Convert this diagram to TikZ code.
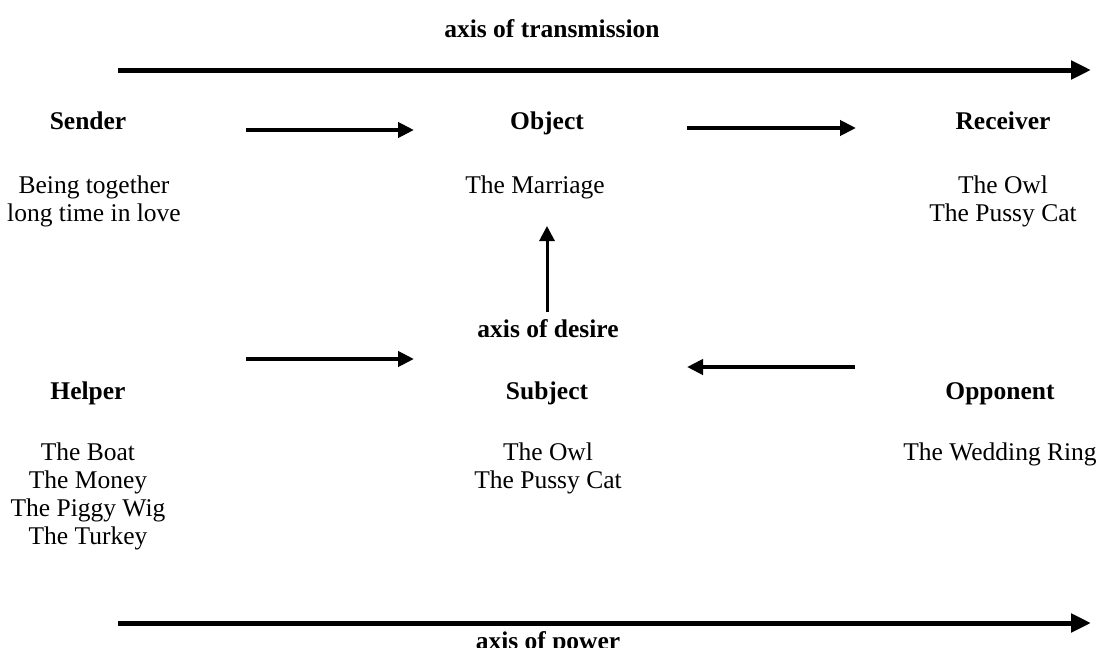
\documentclass[tikz,border=0pt]{standalone}
\usepackage{fontspec}
\setmainfont{Liberation Serif}
\usetikzlibrary{arrows.meta}
\begin{document}
\begin{tikzpicture}[x=1pt,y=-1pt,
  txt/.style={inner sep=0pt,anchor=base,font=\fontsize{25.5}{28}\selectfont,align=center},
  hd/.style={txt,font=\fontsize{25.5}{28}\selectfont\bfseries},
  axisarrow/.style={line width=5pt,-{Triangle[length=20pt,width=18pt]}},
  relarrow/.style={line width=4.5pt,-{Triangle[length=16pt,width=15pt]}},
  desirearrow/.style={line width=3pt,-{Triangle[length=15pt,width=15pt]}}]
\useasboundingbox (0,0) rectangle (1104,648);
% headings
\node[hd] (transm) at (552,37) {axis of transmission};
\node[hd] (sender) at (88,129) {Sender};
\node[hd] (object) at (547,129) {Object};
\node[hd] (receiver) at (1003,129) {Receiver};
\node[hd] (desire) at (548,337) {axis of desire};
\node[hd] (helper) at (88,399) {Helper};
\node[hd] (subject) at (547,399) {Subject};
\node[hd] (opponent) at (1000,399) {Opponent};
\node[hd] (power) at (548,649) {axis of power};
% texts (anchored at the baseline of the last line)
\node[txt] (sendertxt) at (94,221) {Being together\\long time in love};
\node[txt] (objecttxt) at (535,193) {The Marriage};
\node[txt] (receivertxt) at (1003,221) {The Owl\\The Pussy Cat};
\node[txt] (helpertxt) at (88,544) {The Boat\\The Money\\The Piggy Wig\\The Turkey};
\node[txt] (subjecttxt) at (548,488) {The Owl\\The Pussy Cat};
\node[txt] (opponenttxt) at (1000,460) {The Wedding Ring};
% arrow end points
\coordinate (t1) at (118,70);  \coordinate (t2) at (1091,70);
\coordinate (p1) at (118,623); \coordinate (p2) at (1091,623);
\coordinate (so1) at (246,130); \coordinate (so2) at (414,130);
\coordinate (or1) at (687,128); \coordinate (or2) at (856,128);
\coordinate (hs1) at (246,359); \coordinate (hs2) at (414,359);
\coordinate (os1) at (855,367); \coordinate (os2) at (687,367);
\coordinate (d1) at (547,312); \coordinate (d2) at (547,226);
\draw[axisarrow] (t1) -- (t2);
\draw[axisarrow] (p1) -- (p2);
\draw[relarrow] (so1) -- (so2);
\draw[relarrow] (or1) -- (or2);
\draw[relarrow] (hs1) -- (hs2);
\draw[relarrow] (os1) -- (os2);
\draw[desirearrow] (d1) -- (d2);
\end{tikzpicture}
\end{document}
